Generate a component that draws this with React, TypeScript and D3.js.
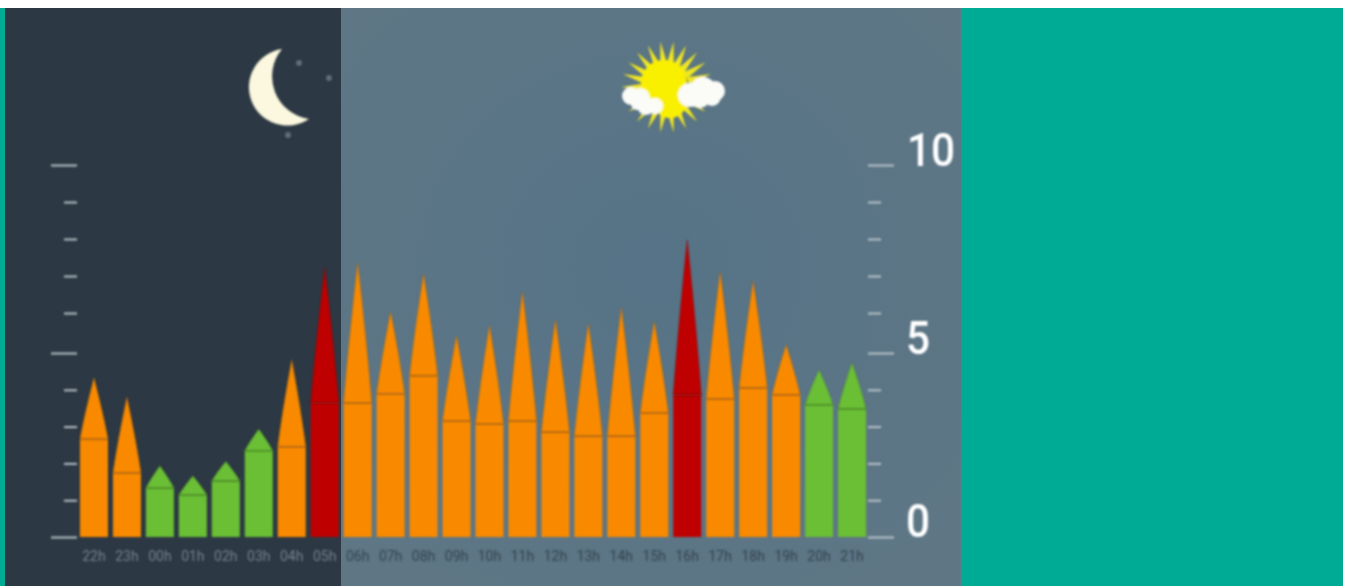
import { useEffect, useRef } from "react";
import * as d3 from "d3";

const hours = ["22h","23h","00h","01h","02h","03h","04h","05h","06h","07h","08h","09h","10h","11h","12h","13h","14h","15h","16h","17h","18h","19h","20h","21h"];
const bodyValues = [2.66,1.74,1.33,1.14,1.52,2.34,2.45,3.64,3.64,3.89,4.38,3.15,3.07,3.15,2.85,2.74,2.74,3.37,3.86,3.75,4.05,3.86,3.59,3.48];
const peakValues = [4.32,3.8,1.93,1.66,2.05,2.93,4.81,7.22,7.35,6.03,7.05,5.43,5.68,6.57,5.83,5.73,6.14,5.78,7.97,7.11,6.86,5.2,4.54,4.73];
const hourLevels = [1,1,0,0,0,0,1,2,1,1,1,1,1,1,1,1,1,1,2,1,1,1,0,0];
const levelColors = ["#6abf35","#f98a06","#bf0000"];
const lineColors = ["#4f8f2b","#b4690f","#8f1010"];
const bigTicks = [0,5,10];

export default function App() {
  const ref = useRef<SVGSVGElement | null>(null);

  useEffect(() => {
    if (!ref.current) return;
    const svg = d3.select(ref.current);
    svg.selectAll("*").remove();

    const width = 1346;
    const height = 586;
    const split = 341;

    const x = d3.scaleBand().domain(hours).range([77.5, 868.5]).paddingInner(0.15).paddingOuter(0.075);
    // the ruler in the picture is not quite even, hence the extra stops
    const y = d3.scaleLinear().domain([0, 5, 6, 10]).range([537, 353, 313, 165]);

    const defs = svg.append("defs");
    const grad = defs.append("radialGradient").attr("id", "day").attr("cx", "50%").attr("cy", "45%").attr("r", "70%");
    grad.append("stop").attr("offset", "0%").attr("stop-color", "#567387");
    grad.append("stop").attr("offset", "100%").attr("stop-color", "#5f7785");
    defs.append("filter").attr("id", "soft").append("feGaussianBlur").attr("stdDeviation", 0.8);

    // page background
    svg.append("rect").attr("width", width).attr("height", height).attr("fill", "#fff");
    svg.append("rect").attr("x", 0).attr("y", 8).attr("width", 1343).attr("height", height - 8).attr("fill", "#00ab96");
    svg.append("rect").attr("x", 5).attr("y", 8).attr("width", split - 5).attr("height", height - 8).attr("fill", "#2c3843");
    svg.append("rect").attr("x", split).attr("y", 8).attr("width", 961 - split).attr("height", height - 8).attr("fill", "url(#day)");

    const root = svg.append("g").attr("filter", "url(#soft)");

    // moon
    const moon = root.append("g");
    moon.append("path")
      .attr("d", "M282 49 A38.5 38.5 0 1 0 309 119 A43 43 0 0 1 282 49 Z")
      .attr("fill", "#fbf8df");
    moon.selectAll("circle")
      .data([[299, 63], [329, 78], [288, 135]])
      .join("circle")
      .attr("cx", (d) => d[0])
      .attr("cy", (d) => d[1])
      .attr("r", 3)
      .attr("fill", "#5f6f7b");

    // sun
    const sun = root.append("g").attr("transform", "translate(667,87)");
    const rays = d3.range(22).map((i) => (i / 22) * 2 * Math.PI);
    sun.selectAll("path")
      .data(rays)
      .join("path")
      .attr("d", (a) => {
        const pt = (r: number, da: number) => `${r * Math.cos(a + da)},${r * Math.sin(a + da)}`;
        return `M${pt(22, -0.17)} L${pt(46, 0)} L${pt(22, 0.17)} Z`;
      })
      .attr("fill", "#f0e620");
    sun.append("circle").attr("cx", -3).attr("cy", -4).attr("r", 23).attr("fill", "#f9f000");
    sun.append("circle").attr("cx", 3).attr("cy", 14).attr("r", 17).attr("fill", "#f9f000");

    const clouds = [[631, 96, 9], [640, 98, 10], [637, 104, 6], [646, 106, 9], [655, 106, 8], [690, 95, 12], [703, 90, 13], [715, 91, 10], [700, 98, 10], [712, 97, 9]];
    root.append("g").selectAll("circle")
      .data(clouds)
      .join("circle")
      .attr("cx", (d) => d[0])
      .attr("cy", (d) => d[1])
      .attr("r", (d) => d[2])
      .attr("fill", "#fbfbf8");

    // scale ticks on both sides
    const majors = [0, 5, 10];
    const minors = d3.range(0, 11).filter((d) => !majors.includes(d));
    const axes: [typeof d3.axisLeft, number][] = [[d3.axisLeft, 77], [d3.axisRight, 868]];
    axes.forEach(([axis, pos]) => {
      [[majors, 26], [minors, 13]].forEach(([vals, size]) => {
        const g = root.append("g")
          .attr("transform", `translate(${pos},0)`)
          .call(axis(y).tickValues(vals as number[]).tickSize(size as number).tickFormat(() => ""));
        g.select(".domain").remove();
        g.selectAll("line").attr("stroke", "#b9c2c8").attr("stroke-width", 2);
      });
    });

    // big numbers
    root.append("g").selectAll("text")
      .data(bigTicks)
      .join("text")
      .attr("transform", (d) => `translate(${d === 10 ? 931 : 918},${y(d) + (d === 0 ? 0 : 1)}) scale(0.9,1)`)
      .attr("text-anchor", "middle")
      .attr("font-family", "Roboto")
      .attr("font-weight", 500)
      .attr("font-size", 47)
      .attr("fill", "#fff")
      .text((d) => d);

    // bars
    const bars = root.append("g").selectAll("g")
      .data(hours)
      .join("g");

    bars.append("path")
      .attr("d", (h, i) => {
        const x0 = x(h) ?? 0;
        const bw = x.bandwidth();
        const b = y(bodyValues[i]);
        const p = y(peakValues[i]);
        const cy = b - (b - p) * 0.42;
        return `M${x0},${b} Q${x0 + bw * 0.17},${cy} ${x0 + bw / 2},${p} Q${x0 + bw * 0.83},${cy} ${x0 + bw},${b} Z`;
      })
      .attr("fill", (_, i) => levelColors[hourLevels[i]])
      .attr("stroke", (_, i) => lineColors[hourLevels[i]])
      .attr("stroke-opacity", 0.5)
      .attr("stroke-width", 1);

    bars.append("rect")
      .attr("x", (h) => x(h) ?? 0)
      .attr("y", (_, i) => y(bodyValues[i]))
      .attr("width", x.bandwidth())
      .attr("height", (_, i) => y(0) - y(bodyValues[i]))
      .attr("fill", (_, i) => levelColors[hourLevels[i]]);

    bars.append("line")
      .attr("x1", (h) => x(h) ?? 0)
      .attr("x2", (h) => (x(h) ?? 0) + x.bandwidth())
      .attr("y1", (_, i) => y(bodyValues[i]))
      .attr("y2", (_, i) => y(bodyValues[i]))
      .attr("stroke", (_, i) => lineColors[hourLevels[i]])
      .attr("stroke-width", 2);

    // hour labels
    root.append("g").selectAll("text")
      .data(hours)
      .join("text")
      .attr("x", (h) => (x(h) ?? 0) + x.bandwidth() / 2)
      .attr("y", 561)
      .attr("text-anchor", "middle")
      .attr("font-family", "Roboto")
      .attr("font-size", 14)
      .attr("fill", (_, i) => (i < 8 ? "#75838d" : "#33434f"))
      .text((h) => h);
  }, []);

  return (
    <svg
      ref={ref}
      width="1346"
      height="586"
      style={{ position: "absolute", left: 0, top: 0, display: "block" }}
    />
  );
}
